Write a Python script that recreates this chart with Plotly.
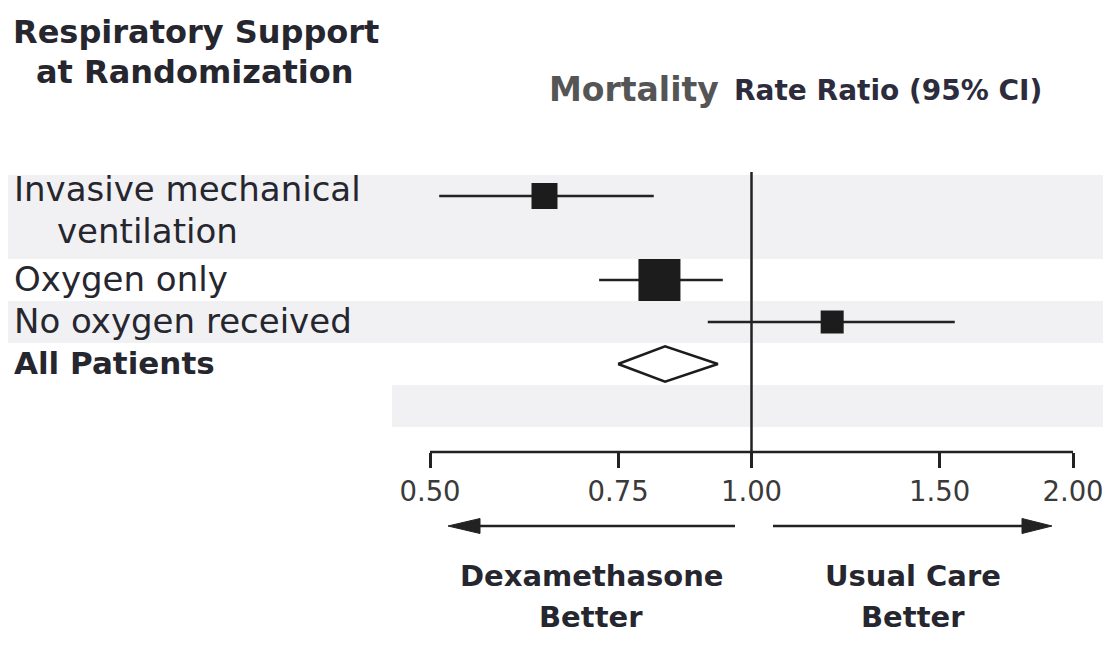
import math
import plotly.graph_objects as go

# ---------------- data ----------------
row_labels = [["Invasive mechanical", "ventilation"], ["Oxygen only"], ["No oxygen received"], ["All Patients"]]
row_pos = [0, 2, 3, 4]
rate_ratio = [0.64, 0.82, 1.19, 0.83]
ci_low = [0.51, 0.72, 0.91, 0.75]
ci_high = [0.81, 0.94, 1.55, 0.93]
tick_vals = [0.50, 0.75, 1.00, 1.50, 2.00]
tick_text = ["0.50", "0.75", "1.00", "1.50", "2.00"]
shaded_rows = [0, 1, 3, 5]

# ---------------- layout helpers ----------------
OFF = 8                      # default page body margin
W, H = 1111 - 2 * OFF, 659 - 2 * OFF
def px(x):
    return (x - OFF) / W
def py(y):
    return 1 - (y - OFF) / H

DARK = "#26262f"
LINE = "#222222"
FONT = "DejaVu Sans"
PLOT_L, PLOT_R = 392, OFF + W          # plot area in window pixels
T_L, T_R = 430, 1073                   # pixel positions of first / last tick
k = (T_R - T_L) / (math.log10(tick_vals[-1]) - math.log10(tick_vals[0]))
X_RANGE = [math.log10(tick_vals[0]) - (T_L - PLOT_L) / k,
           math.log10(tick_vals[-1]) + (PLOT_R - T_R) / k]
X_DOMAIN = [px(PLOT_L), 1.0]
Y_DOMAIN = [py(452), py(172)]
BAND = "#f1f1f4"

fig = go.Figure()

# squares with CI whiskers (subgroups)
n_sub = 3
fig.add_trace(go.Scatter(
    x=rate_ratio[:n_sub], y=row_pos[:n_sub], mode="markers",
    marker=dict(symbol="square", size=[26, 42, 23], color="#1c1c1c", opacity=1,
                line=dict(width=0)),
    error_x=dict(type="data", symmetric=False,
                 array=[h - e for h, e in zip(ci_high[:n_sub], rate_ratio[:n_sub])],
                 arrayminus=[e - l for e, l in zip(rate_ratio[:n_sub], ci_low[:n_sub])],
                 thickness=2.5, width=0, color=LINE),
    hoverinfo="skip", showlegend=False))

# diamond for all patients
r, e, l, h = row_pos[3], rate_ratio[3], ci_low[3], ci_high[3]
half = 0.42
fig.add_trace(go.Scatter(
    x=[l, e, h, e, l], y=[r, r - half, r, r + half, r],
    mode="lines", fill="toself", fillcolor="white",
    line=dict(color="#1c1c1c", width=2.5), hoverinfo="skip", showlegend=False))

shapes = []
labelled = set()
for p, lines in zip(row_pos, row_labels):
    for j in range(len(lines)):
        labelled.add(p + j)
for sr in shaded_rows:
    shapes.append(dict(type="rect", layer="below", xref="paper", yref="y",
                       x0=px(8) if sr in labelled else X_DOMAIN[0], x1=1.0,
                       y0=sr - 0.5, y1=sr + 0.5, fillcolor=BAND, line=dict(width=0)))
# reference line at 1
shapes.append(dict(type="line", xref="x", yref="paper", x0=1, x1=1,
                   y0=Y_DOMAIN[0], y1=Y_DOMAIN[1], line=dict(color=LINE, width=2.5)))
# axis baseline from first to last tick
shapes.append(dict(type="line", xref="x", yref="paper", x0=tick_vals[0], x1=tick_vals[-1],
                   y0=Y_DOMAIN[0], y1=Y_DOMAIN[0], line=dict(color=LINE, width=2.5)))

# direction arrows (shaft + triangular head)
ARROW_Y = 526
for tail, base, tip in [(735, 480, 448), (773, 1022, 1052)]:
    shapes.append(dict(type="line", xref="paper", yref="paper",
                       x0=px(tail), x1=px(base), y0=py(ARROW_Y), y1=py(ARROW_Y),
                       line=dict(color=LINE, width=2.5)))
    shapes.append(dict(type="path", xref="paper", yref="paper",
                       path=(f"M{px(tip)},{py(ARROW_Y)} L{px(base)},{py(ARROW_Y - 7.5)} "
                             f"L{px(base)},{py(ARROW_Y + 7.5)} Z"),
                       fillcolor=LINE, line=dict(color=LINE, width=1)))

ann = []
# row labels
for p, lines in zip(row_pos, row_labels):
    bold = lines[0] == "All Patients"
    for j, t in enumerate(lines):
        ann.append(dict(x=px(12 if j == 0 else 55), y=p + j, xref="paper", yref="y",
                        xanchor="left", yanchor="middle", showarrow=False,
                        yshift=7 if len(lines) > 1 else 1,
                        text=f"<b>{t}</b>" if bold else t,
                        font=dict(family=FONT, size=31 if bold else 34, color=DARK)))
# headers
ann.append(dict(x=px(11), y=py(32), xref="paper", yref="paper", xanchor="left", yanchor="middle",
                showarrow=False, text="<b>Respiratory Support</b>",
                font=dict(family=FONT, size=32, color=DARK)))
ann.append(dict(x=px(34), y=py(72), xref="paper", yref="paper", xanchor="left", yanchor="middle",
                showarrow=False, text="<b>at Randomization</b>",
                font=dict(family=FONT, size=32, color=DARK)))
ann.append(dict(x=px(547), y=py(89), xref="paper", yref="paper", xanchor="left", yanchor="middle",
                showarrow=False, text="<b>Mortality</b>",
                font=dict(family=FONT, size=33, color="#555555")))
ann.append(dict(x=px(732), y=py(91), xref="paper", yref="paper", xanchor="left", yanchor="middle",
                showarrow=False, text="<b>Rate Ratio (95% CI)</b>",
                font=dict(family=FONT, size=28, color="#2c2c3c")))
for cx, l1, l2 in [(591, "Dexamethasone", "Better"), (913, "Usual Care", "Better")]:
    for yy, t in [(576, l1), (617, l2)]:
        ann.append(dict(x=px(cx), y=py(yy), xref="paper", yref="paper", xanchor="center",
                        yanchor="middle", showarrow=False, text=f"<b>{t}</b>",
                        font=dict(family=FONT, size=29, color=DARK)))

fig.update_layout(
    width=W, height=H, margin=dict(l=0, r=0, t=0, b=0),
    paper_bgcolor="white", plot_bgcolor="rgba(0,0,0,0)",
    xaxis=dict(type="log", domain=X_DOMAIN, range=X_RANGE,
               tickvals=tick_vals, ticktext=tick_text, ticks="outside", ticklen=15,
               tickwidth=2.5, tickcolor=LINE, showline=False, showgrid=False,
               zeroline=False, ticklabeloverflow="allow",
               tickfont=dict(family=FONT, size=27.5, color="#3a3a3a"),
               fixedrange=True),
    yaxis=dict(domain=Y_DOMAIN, range=[(452 - 196) / 42, (172 - 196) / 42],
               visible=False, fixedrange=True),
    shapes=shapes, annotations=ann,
)

fig.write_html("out.html")
